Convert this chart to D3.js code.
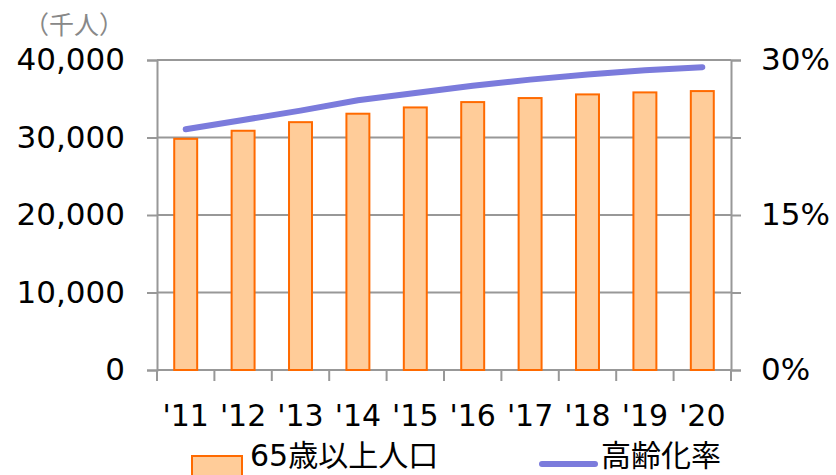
<!DOCTYPE html>
<html>
<head>
<meta charset="utf-8">
<script src="https://d3js.org/d3.v7.min.js"></script>
<style>
    body { margin: 0; background: #fff; }
    svg text { font-family: "DejaVu Sans", Verdana, sans-serif; }
    .cjk { font-family: "Noto Sans CJK JP", sans-serif; }
</style>
</head>
<body>
<div id="chart"></div>
<script>
    // data
    const years = ["'11", "'12", "'13", "'14", "'15", "'16", "'17", "'18", "'19", "'20"];
    const elderly = [29830, 30870, 31980, 33070, 33880, 34570, 35090, 35560, 35820, 35990];
    const agingRate = [23.3, 24.2, 25.1, 26.1, 26.8, 27.5, 28.1, 28.6, 29.0, 29.3];
    const leftTicks = [0, 10000, 20000, 30000, 40000];
    const rightTicks = [0, 7.5, 15, 22.5, 30];
    const rightLabels = [0, 15, 30];

    const width = 836, height = 475;
    const plot = { left: 157, right: 731, top: 60, bottom: 370 };
    const gridColor = "#989898";

    const svg = d3.select("#chart").append("svg")
        .attr("width", width)
        .attr("height", height);

    const x = d3.scaleBand().domain(years).range([plot.left, plot.right]).paddingInner(0.6).paddingOuter(0.3);
    const xb = d3.scaleBand().domain(years).range([plot.left, plot.right]);
    const y = d3.scaleLinear().domain([0, 40000]).range([plot.bottom, plot.top]);
    const y2 = d3.scaleLinear().domain([0, 30]).range([plot.bottom, plot.top]);

    // gridlines
    svg.append("g").selectAll("line").data(leftTicks).join("line")
        .attr("x1", plot.left).attr("x2", plot.right)
        .attr("y1", d => y(d)).attr("y2", d => y(d))
        .attr("stroke", gridColor).attr("stroke-width", 2);

    // left axis
    const yAxis = svg.append("g")
        .attr("transform", `translate(${plot.left},0)`)
        .call(d3.axisLeft(y).tickValues(leftTicks).tickSize(10).tickPadding(22).tickFormat(d3.format(",")));
    yAxis.select(".domain").attr("stroke", gridColor).attr("stroke-width", 2);
    yAxis.selectAll(".tick line").attr("stroke", gridColor).attr("stroke-width", 2);
    yAxis.selectAll("text").attr("font-size", 31).attr("fill", "#000")
        .attr("font-family", "DejaVu Sans");

    // right axis
    const y2Axis = svg.append("g")
        .attr("transform", `translate(${plot.right},0)`)
        .call(d3.axisRight(y2).tickValues(rightTicks).tickSize(10).tickPadding(20)
            .tickFormat(d => rightLabels.includes(d) ? d + "%" : ""));
    y2Axis.select(".domain").attr("stroke", gridColor).attr("stroke-width", 2);
    y2Axis.selectAll(".tick line").attr("stroke", gridColor).attr("stroke-width", 2);
    y2Axis.selectAll("text").attr("font-size", 31).attr("fill", "#000")
        .attr("font-family", "DejaVu Sans");

    // bottom axis: ticks at category boundaries
    const bounds = years.map(d => xb(d)).concat([plot.right]);
    svg.append("g").selectAll("line").data(bounds).join("line")
        .attr("x1", d => d).attr("x2", d => d)
        .attr("y1", plot.bottom).attr("y2", plot.bottom + 11)
        .attr("stroke", gridColor).attr("stroke-width", 2);
    svg.append("line")
        .attr("x1", plot.left).attr("x2", plot.right)
        .attr("y1", plot.bottom).attr("y2", plot.bottom)
        .attr("stroke", gridColor).attr("stroke-width", 2);
    svg.append("g").selectAll("text").data(years).join("text")
        .attr("x", d => xb(d) + xb.bandwidth() / 2)
        .attr("y", 426)
        .attr("text-anchor", "middle")
        .attr("font-size", 30)
        .text(d => d);

    // bars
    svg.append("g").selectAll("rect").data(years).join("rect")
        .attr("x", d => x(d))
        .attr("y", (d, i) => y(elderly[i]))
        .attr("width", x.bandwidth())
        .attr("height", (d, i) => y(0) - y(elderly[i]))
        .attr("fill", "#ffcc99")
        .attr("stroke", "#ff6a00")
        .attr("stroke-width", 2);

    // aging rate line
    const line = d3.line()
        .x((d, i) => xb(years[i]) + xb.bandwidth() / 2)
        .y(d => y2(d));
    svg.append("path")
        .datum(agingRate)
        .attr("d", line)
        .attr("fill", "none")
        .attr("stroke", "#7b7bdc")
        .attr("stroke-width", 6)
        .attr("stroke-linecap", "round");

    // unit label
    svg.append("text")
        .attr("class", "cjk")
        .attr("x", 24).attr("y", 34)
        .attr("font-size", 25)
        .attr("fill", "#888")
        .text("（千人）");

    // legend
    const lg = svg.append("g");
    lg.append("rect")
        .attr("x", 192).attr("y", 456).attr("width", 50).attr("height", 24)
        .attr("fill", "#ffcc99").attr("stroke", "#ff6a00").attr("stroke-width", 2);
    lg.append("text")
        .attr("x", 250).attr("y", 466)
        .attr("font-size", 30)
        .html('65<tspan class="cjk">歳以上人口</tspan>');
    lg.append("line")
        .attr("x1", 542).attr("x2", 595).attr("y1", 464).attr("y2", 464)
        .attr("stroke", "#7b7bdc").attr("stroke-width", 6).attr("stroke-linecap", "round");
    lg.append("text")
        .attr("class", "cjk")
        .attr("x", 601).attr("y", 466)
        .attr("font-size", 30)
        .text("高齢化率");
</script>
</body>
</html>
